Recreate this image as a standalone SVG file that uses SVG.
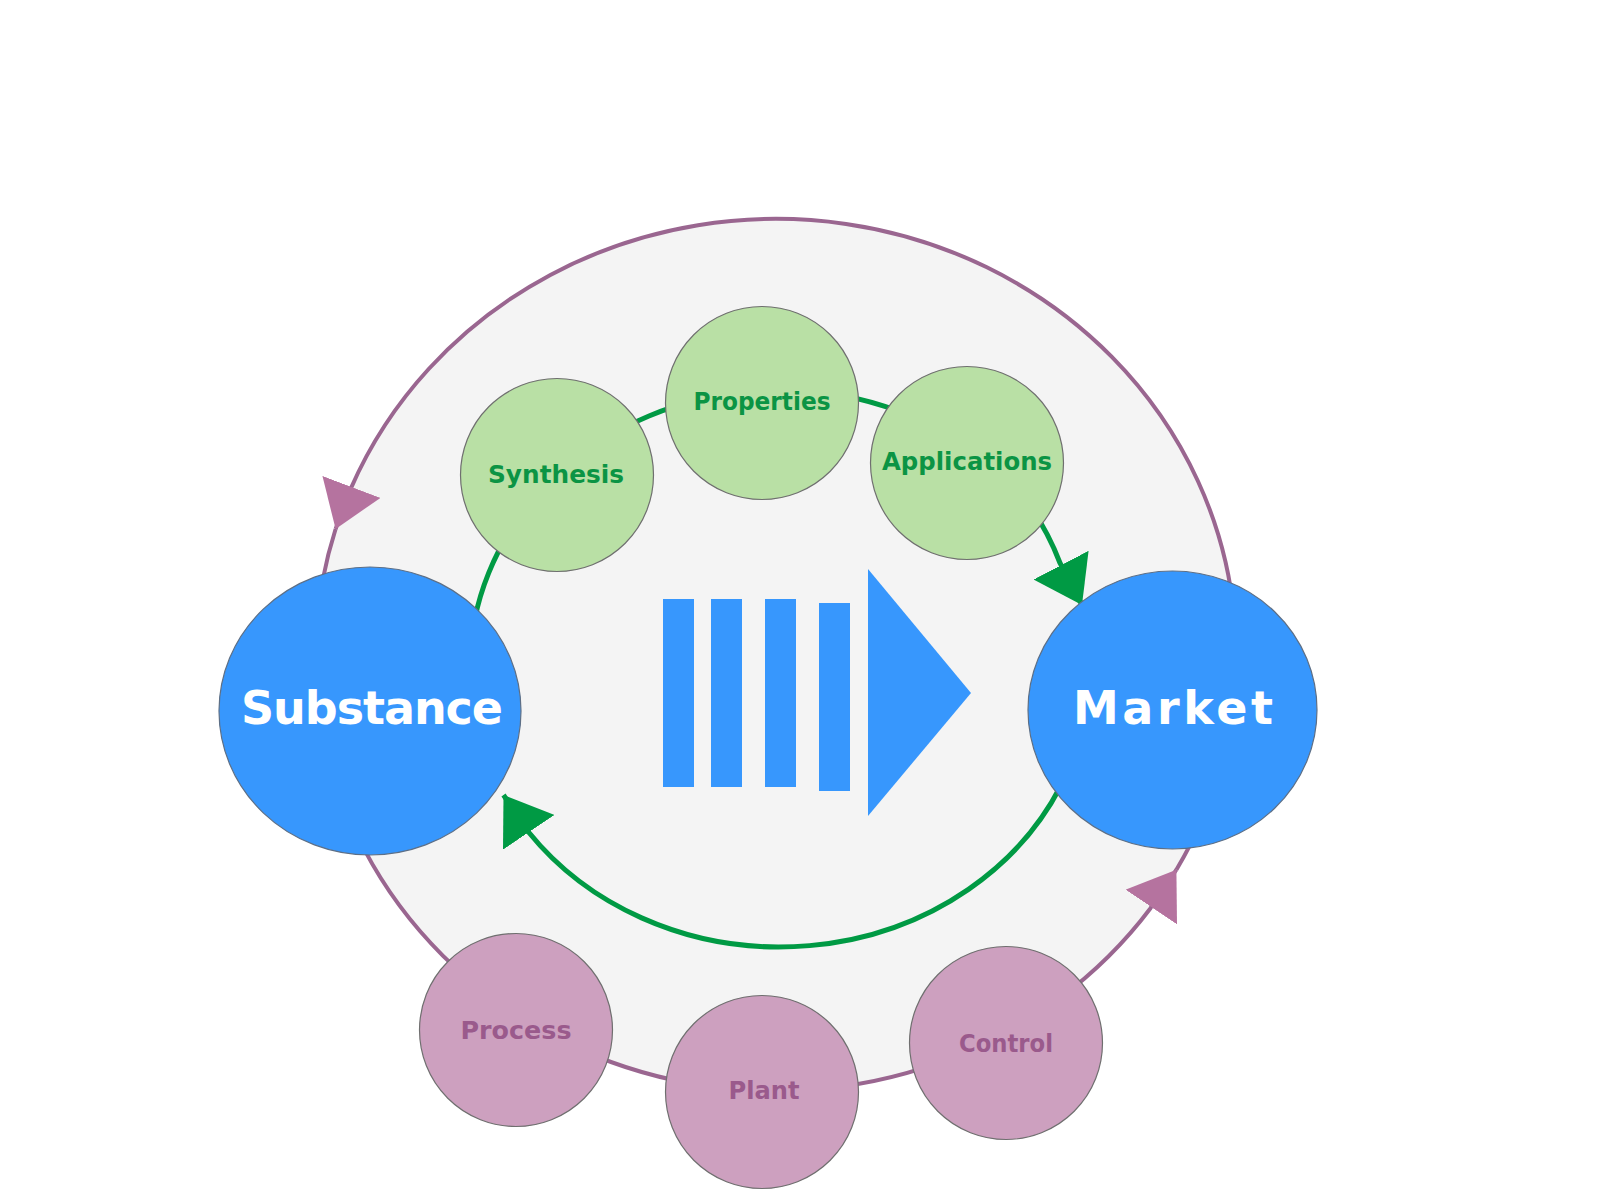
<svg xmlns="http://www.w3.org/2000/svg" width="1600" height="1200" viewBox="0 0 1600 1200">
  <style>
    .green-node { fill: #b9e0a5; stroke: #6f6f6f; stroke-width: 1.2; }
    .purple-node { fill: #cda0bf; stroke: #6f6f6f; stroke-width: 1.2; }
    .blue-node { fill: #3797fd; stroke: #5d6f86; stroke-width: 1.2; }
    .green-text { font-family: "DejaVu Sans", Verdana, sans-serif; font-weight: bold; font-size: 25px; fill: #0b9444; text-anchor: middle; }
    .purple-text { font-family: "DejaVu Sans", Verdana, sans-serif; font-weight: bold; font-size: 25px; fill: #9a5a8c; text-anchor: middle; }
    .big-text { font-family: "DejaVu Sans", Verdana, sans-serif; font-weight: bold; font-size: 46px; fill: #ffffff; text-anchor: middle; }
    .green-link { fill: none; stroke: #009a44; stroke-width: 5; }
    .purple-link { fill: none; stroke: #9a6690; stroke-width: 4; }
  </style>
  <defs>
    <marker id="arrow-green" markerUnits="userSpaceOnUse" viewBox="0 0 45 62" refX="45" refY="31" markerWidth="45" markerHeight="62" orient="auto">
      <path d="M0,0 L45,31 L0,62 Z" fill="#009a44"/>
    </marker>
    <marker id="arrow-purple" markerUnits="userSpaceOnUse" viewBox="0 0 45 62" refX="45" refY="31" markerWidth="45" markerHeight="62" orient="auto">
      <path d="M0,0 L45,31 L0,62 Z" fill="#b5739f"/>
    </marker>
  </defs>

  <rect x="0" y="0" width="1600" height="1200" fill="#ffffff"/>

  <g id="cycle-background">
    <ellipse cx="776" cy="655" rx="460" ry="436" fill="#f4f4f4"/>
  </g>

  <g id="center-arrow" fill="#3797fd">
    <rect x="663" y="599" width="31" height="188"/>
    <rect x="711" y="599" width="31" height="188"/>
    <rect x="765" y="599" width="31" height="188"/>
    <rect x="819" y="603" width="31" height="188"/>
    <polygon points="868,569 971,693 868,816"/>
  </g>

  <g id="connectors">
    <path class="purple-link" d="M1234.3,617 A460,436 0 0 0 351,488.1 L335.6,529" marker-end="url(#arrow-purple)"/>
    <path class="purple-link" d="M335.6,529 A460,436 0 0 0 323,730.7"/>
    <path class="purple-link" d="M323,730.7 A460,436 0 0 0 1150.5,908.2 L1176.4,869.7" marker-end="url(#arrow-purple)"/>
    <path class="purple-link" d="M1176.4,869.7 A460,436 0 0 0 1234.3,617"/>
    <path class="green-link" d="M471.2,692.2 A310,278 0 0 1 560.8,471.4"/>
    <path class="green-link" d="M560.8,471.4 A310,278 0 0 1 753,391.1"/>
    <path class="green-link" d="M753,391.1 A310,278 0 0 1 1017.5,489.3"/>
    <path class="green-link" d="M1017.5,489.3 A310,278 0 0 1 1060,563 L1082,605" marker-end="url(#arrow-green)"/>
    <path class="green-link" d="M1061,785.5 A310,278 0 0 1 528.5,832 L503.5,795" marker-end="url(#arrow-green)"/>
  </g>

  <g id="node-substance">
    <ellipse class="blue-node" cx="370" cy="711" rx="151" ry="144"/>
    <text class="big-text" x="372" y="724" textLength="262">Substance</text>
  </g>
  <g id="node-market">
    <ellipse class="blue-node" cx="1172.5" cy="710" rx="144.5" ry="139"/>
    <text class="big-text" x="1173" y="724" textLength="200">Market</text>
  </g>

  <g id="node-synthesis">
    <circle class="green-node" cx="557" cy="475" r="96.5"/>
    <text class="green-text" x="556" y="483" textLength="136" lengthAdjust="spacingAndGlyphs">Synthesis</text>
  </g>
  <g id="node-properties">
    <circle class="green-node" cx="762" cy="403" r="96.5"/>
    <text class="green-text" x="762" y="410" textLength="137" lengthAdjust="spacingAndGlyphs">Properties</text>
  </g>
  <g id="node-applications">
    <circle class="green-node" cx="967" cy="463" r="96.5"/>
    <text class="green-text" x="967" y="470" textLength="170" lengthAdjust="spacingAndGlyphs">Applications</text>
  </g>

  <g id="node-process">
    <circle class="purple-node" cx="516" cy="1030" r="96.5"/>
    <text class="purple-text" x="516" y="1039" textLength="111" lengthAdjust="spacingAndGlyphs">Process</text>
  </g>
  <g id="node-plant">
    <circle class="purple-node" cx="762" cy="1092" r="96.5"/>
    <text class="purple-text" x="764" y="1099" textLength="71" lengthAdjust="spacingAndGlyphs">Plant</text>
  </g>
  <g id="node-control">
    <circle class="purple-node" cx="1006" cy="1043" r="96.5"/>
    <text class="purple-text" x="1006" y="1052" textLength="94" lengthAdjust="spacingAndGlyphs">Control</text>
  </g>
</svg>
